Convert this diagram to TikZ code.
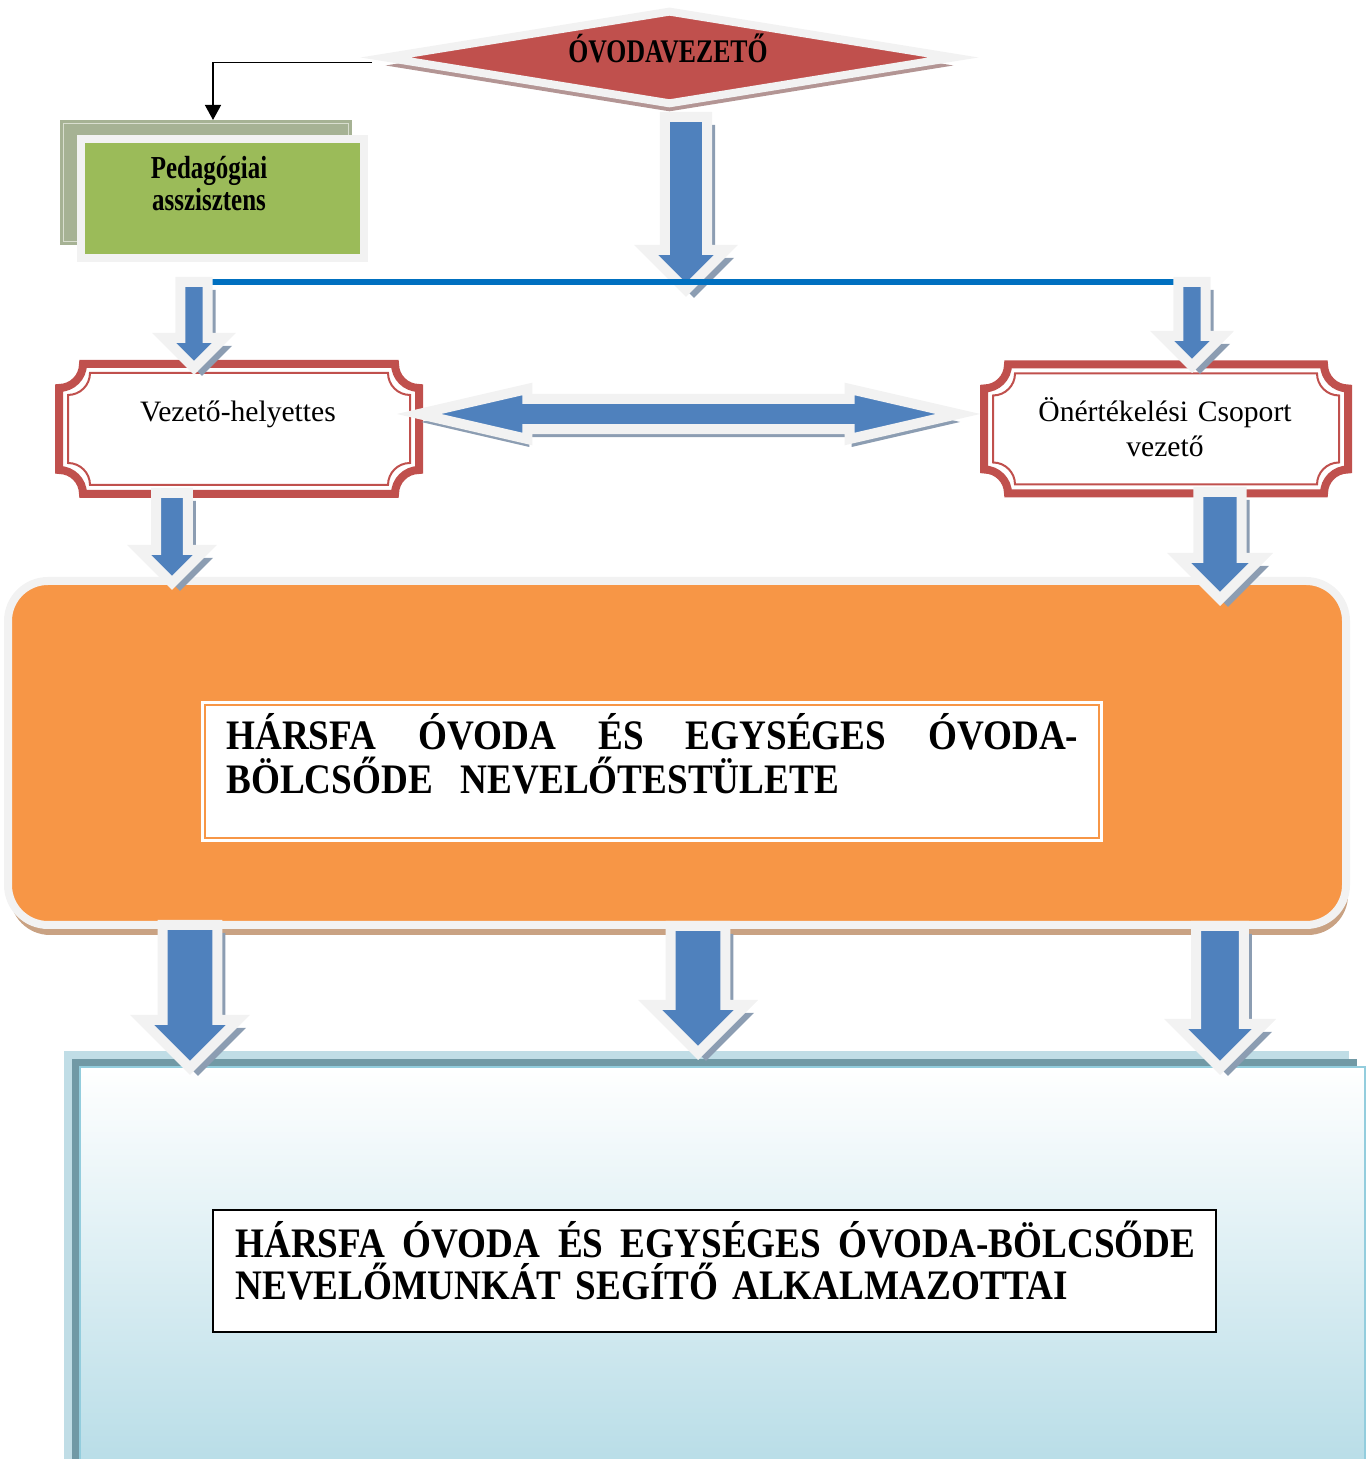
\documentclass[tikz,border=0pt]{standalone}
\usepackage{fontspec}
\setmainfont{Liberation Serif}
\newfontfamily\slimfont{Liberation Serif}[FakeStretch=0.78]
\newfontfamily\bannerfont{Liberation Serif}[FakeStretch=0.885]
\usetikzlibrary{shapes,arrows.meta,positioning,calc,shadows}
\definecolor{ovred}{HTML}{C0504D}
\definecolor{framegray}{HTML}{F2F2F2}
\definecolor{pedgreen}{HTML}{9BBB59}
\definecolor{backgreen}{HTML}{A6B294}
\definecolor{backline}{HTML}{D9DECF}
\definecolor{arrowblue}{HTML}{4F81BD}
\definecolor{arrowshadow}{HTML}{8C9DB2}
\definecolor{linkblue}{HTML}{0070C0}
\definecolor{boxorange}{HTML}{F79646}
\definecolor{orangeshadow}{HTML}{C9A283}
\definecolor{diashadow}{HTML}{B39594}
\definecolor{paleblue}{HTML}{C0DDE6}
\definecolor{darkteal}{HTML}{7199A5}
\definecolor{gradblue}{HTML}{B2DAE5}
\definecolor{edgeblue}{HTML}{93CDDD}
\tikzset{
headdiamond/.style = {diamond, aspect=6, draw=framegray, fill=ovred, line width=4pt, inner sep=0pt, minimum width=285.5pt, minimum height=47.5pt, drop shadow={shadow xshift=0pt, shadow yshift=-4pt, fill=diashadow, opacity=1}},
headtext/.style = {font=\slimfont\bfseries\fontsize{16.5pt}{18pt}\selectfont, inner sep=0pt},
thinarrow/.style = {line width=0.7pt, -{Triangle[length=7.5pt,width=8pt]}, shorten >=1pt},
greenback/.style = {rectangle, fill=backgreen, draw=backgreen, double=backline, double distance=0.5pt, line width=1.5pt, minimum width=142.5pt, minimum height=59pt, inner sep=0pt},
greenbox/.style = {rectangle, fill=pedgreen, draw=framegray, line width=4pt, minimum width=141.5pt, minimum height=59.5pt, inner sep=0pt},
smallbold/.style = {font=\slimfont\bfseries\fontsize{16pt}{16pt}\selectfont, align=center, inner sep=0pt},
plaquebox/.style = {rectangle, inner sep=0pt, outer sep=0pt},
redband/.style = {draw=ovred, line width=4pt},
redline/.style = {draw=ovred, line width=1pt},
plaintext/.style = {font=\fontsize{14.8pt}{17.5pt}\selectfont, inner sep=0pt},
orangebox/.style = {rectangle, rounded corners=20pt, fill=boxorange, draw=framegray, line width=4pt, minimum width=669pt, minimum height=172pt, inner sep=0pt, drop shadow={shadow xshift=1pt, shadow yshift=-5pt, fill=orangeshadow, opacity=1}},
orangeframe/.style = {rectangle, fill=white, draw=white, double=boxorange, double distance=0.8pt, line width=1.4pt, minimum width=447pt, minimum height=66.5pt, inner sep=0pt},
bannertext/.style = {font=\bannerfont\bfseries\fontsize{21pt}{22pt}\selectfont, align=left, inner sep=0pt},
bluefront/.style = {rectangle, draw=edgeblue, line width=1pt, top color=white, bottom color=gradblue, minimum width=642.5pt, minimum height=216.5pt, inner sep=0pt, general shadow={shadow xshift=-8pt, shadow yshift=8pt, fill=paleblue}, general shadow={shadow xshift=-4pt, shadow yshift=4pt, fill=darkteal}},
whitebox/.style = {rectangle, fill=white, draw=black, line width=1pt, minimum width=501.5pt, minimum height=61pt, inner sep=0pt},
downblock/.style = {single arrow, rotate=-90, anchor=tip, draw=framegray, fill=arrowblue, line width=5pt, inner xsep=0pt, single arrow head indent=0pt, drop shadow={shadow xshift=4pt, shadow yshift=-4pt, fill=arrowshadow, opacity=1}},
sideblock/.style = {double arrow, draw=framegray, fill=arrowblue, line width=5pt, inner xsep=0pt, inner ysep=4.5pt, double arrow tip angle=26, double arrow head extend=4.5pt, double arrow head indent=0pt, minimum width=25pt, minimum height=269.5pt, drop shadow={shadow xshift=1pt, shadow yshift=-4pt, fill=arrowshadow, opacity=1}},
linkline/.style = {draw=linkblue, line width=3pt}
}
% frame with hollow corners round a node: node, inset, radius, style
\newcommand{\plaqueframe}[4]{%
  \draw[#4] ([shift={(#3+#2,-#2)}]#1.north west) -- ([shift={(-#3-#2,-#2)}]#1.north east)
    arc[start angle=180, end angle=270, radius=#3]
    -- ([shift={(-#2,#3+#2)}]#1.south east)
    arc[start angle=90, end angle=180, radius=#3]
    -- ([shift={(#3+#2,#2)}]#1.south west)
    arc[start angle=0, end angle=90, radius=#3]
    -- ([shift={(#2,-#3-#2)}]#1.north west)
    arc[start angle=270, end angle=360, radius=#3]
    -- cycle;}
\begin{document}
\begin{tikzpicture}[x=0.5pt, y=0.5pt]
    \useasboundingbox (0,0) rectangle (1370,1459);
    % head of the kindergarten
    \node [headdiamond] (ovoda) at (669.5,1401.5) {};
    \node [headtext, anchor=base] (ovodatxt) at (668,1396) {ÓVODAVEZETŐ};
    % assistant
    \node [greenback] (pedback) at (206,1276.5) {};
    \node [greenbox] (peda) at ($(pedback)+(16.5,-16.5)$) {};
    \node [smallbold] (pedtxt) at (209,1275) {Pedagógiai\\asszisztens};
    \draw [thinarrow] (ovoda.west) ++(-8,-5) -| ([xshift=3.5pt]pedback.north);
    % deputy and self-evaluation group
    \node [plaquebox, minimum width=180pt, minimum height=65pt] (vh) at (239,1030) {};
    \plaqueframe{vh}{0pt}{12pt}{redband}
    \plaqueframe{vh}{4.5pt}{11pt}{redline}
    \node [plaintext, anchor=base] (vhtxt) at (238,1037) {Vezető-helyettes};
    \node [plaquebox, minimum width=182pt, minimum height=64.5pt] (ocs) at (1166,1030) {};
    \plaqueframe{ocs}{0pt}{12pt}{redband}
    \plaqueframe{ocs}{4.5pt}{11pt}{redline}
    \node [plaintext, anchor=base, align=center, text width=150pt] (ocstxt) at (1165,1037) {Önértékelési Csoport\\vezető};
    % teaching staff
    \node [orangebox] (narancs) at (677,706) {};
    \node [orangeframe] (nevtest) at (652,687.5) {};
    \node [bannertext, text width=426pt, anchor=base west] (nevtesttxt) at (226,709)
        {\hbox to 426pt{HÁRSFA\hfill ÓVODA\hfill ÉS\hfill EGYSÉGES\hfill ÓVODA-}\\BÖLCSŐDE\ \ NEVELŐTESTÜLETE};
    % support staff
    \node [bluefront] (alk) at (722.5,175.5) {};
    \node [whitebox] (alkbox) at (714.5,188) {};
    \node [bannertext, text width=480pt, anchor=base west, font=\bannerfont\bfseries\fontsize{21pt}{21pt}\selectfont] (alktxt) at (235,201)
        {\hbox to 480pt{HÁRSFA\hfill ÓVODA\hfill ÉS\hfill EGYSÉGES\hfill ÓVODA-BÖLCSŐDE}\\NEVELŐMUNKÁT SEGÍTŐ ALKALMAZOTTAI};
    % block arrows
    \node [downblock, minimum height=86.5pt, minimum width=40pt, inner ysep=5.5pt] (a1) at (686,1162) {};
    \coordinate (vonalbal) at (206,1177);
    \coordinate (vonaljobb) at (1175,1177);
    \draw [linkline] (vonalbal) -- (vonaljobb);
    \node [downblock, minimum height=43pt, minimum width=30pt, inner ysep=3.5pt] (a2) at (194,1084) {};
    \node [downblock, minimum height=42pt, minimum width=30pt, inner ysep=3.5pt] (a3) at (1192,1086) {};
    \node [sideblock] (dbl) at (688.5,1045) {};
    \node [downblock, minimum height=45pt, minimum width=33pt, inner ysep=4pt] (a4) at (172,869) {};
    \node [downblock, minimum height=53.5pt, minimum width=41pt, inner ysep=5.5pt] (a5) at (1220,853) {};
    \node [downblock, minimum height=71.5pt, minimum width=48pt, inner ysep=7pt] (a6) at (190,384) {};
    \node [downblock, minimum height=63.5pt, minimum width=48pt, inner ysep=7pt] (a7) at (698,399) {};
    \node [downblock, minimum height=71pt, minimum width=44pt, inner ysep=6pt] (a8) at (1220,384) {};
\end{tikzpicture}
\end{document}
